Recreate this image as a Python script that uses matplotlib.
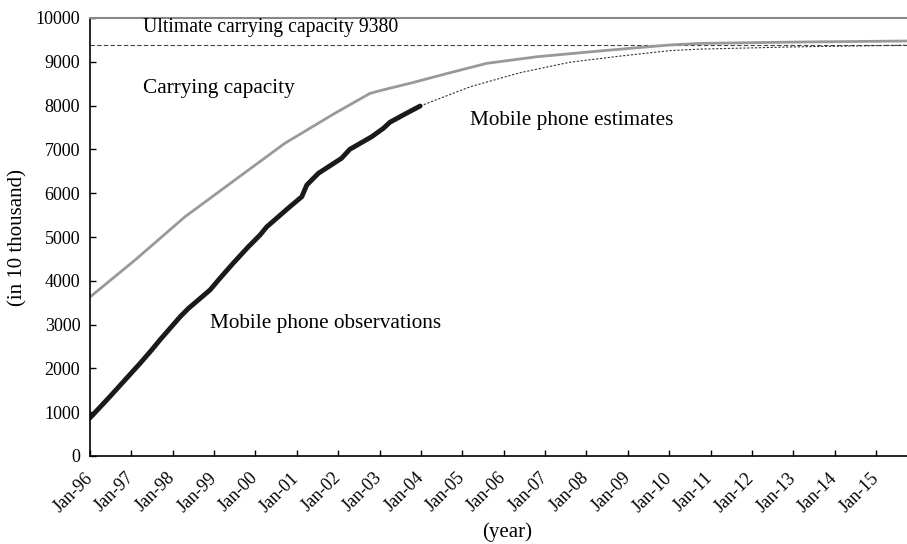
import matplotlib
matplotlib.use("Agg")
import matplotlib.pyplot as plt

plt.rcParams['font.family'] = ['Liberation Serif', 'DejaVu Serif']

# Observed mobile phone subscribers (in 10 thousand), fractional years
obs_year = [1996.0, 1996.48, 1997.21, 1997.49, 1997.69, 1998.18, 1998.38, 1998.90,
            1999.14, 1999.46, 1999.83, 1999.95, 2000.11, 2000.27, 2000.83, 2001.12,
            2001.24, 2001.52, 2002.08, 2002.28, 2002.81, 2003.09, 2003.25, 2003.6,
            2003.98]
obs_val = [870, 1355, 2115, 2420, 2650, 3180, 3370, 3790,
           4057, 4400, 4780, 4893, 5045, 5230, 5690, 5920,
           6187, 6454, 6797, 7002, 7290, 7480, 7620, 7800,
           7990]

# Carrying capacity curve
cap_year = [1996.0, 1997.09, 1998.30, 1999.50, 2000.71, 2001.92, 2002.77, 2003.13,
            2003.74, 2004.66, 2005.59, 2006.80, 2008.41, 2010.02, 2010.75, 2013.0,
            2015.75]
cap_val = [3630, 4475, 5465, 6300, 7140, 7825, 8280, 8370,
           8510, 8740, 8965, 9115, 9255, 9385, 9420, 9450,
           9475]

# Logistic estimates beyond the observed period
est_year = [2003.98, 2005.19, 2006.39, 2007.60, 2008.81, 2010.02, 2010.75, 2013.0,
            2015.75]
est_val = [7990, 8430, 8750, 8990, 9130, 9255, 9290, 9340,
           9380]

ultimate = 9380

years = list(range(1996, 2016))
tick_labels = ["Jan-%02d" % (y % 100) for y in years]
y_ticks = list(range(0, 10001, 1000))

fig = plt.figure(figsize=(9.07, 5.44), dpi=100)
ax = fig.add_axes([90 / 907, 1 - 456 / 544, 1 - 90 / 907, (456 - 18) / 544])

ax.axhline(ultimate, color='#444444', lw=0.8, ls=(0, (4, 2)))
ax.plot(cap_year, cap_val, color='#999999', lw=2.0, solid_capstyle='round')
ax.plot(est_year, est_val, color='#333333', lw=0.8, ls=(0, (2, 1.5)))
ax.plot(obs_year, obs_val, color='#1a1a1a', lw=3.5, solid_capstyle='round',
        solid_joinstyle='round')

ax.set_xlim(1996, 1996 + (907 - 90) / 41.37)
ax.set_ylim(0, 10000)
ax.set_xticks(years)
ax.set_xticklabels(tick_labels, rotation=45, ha='right', va='center',
                   rotation_mode='anchor', fontsize=13)
ax.set_yticks(y_ticks)
ax.set_yticklabels([str(v) for v in y_ticks], fontsize=13)
ax.tick_params(direction='in', length=4, width=1)
ax.tick_params(axis='y', pad=7)
ax.tick_params(axis='x', pad=14)

ax.spines['right'].set_visible(False)
ax.spines['top'].set_color('#888888')
ax.spines['top'].set_linewidth(1.5)
ax.spines['left'].set_linewidth(1.2)
ax.spines['bottom'].set_linewidth(1.2)

ax.set_ylabel('(in 10 thousand)', fontsize=15, va='center')
ax.yaxis.set_label_coords(-72 / 817, 0.5)
ax.set_xlabel('(year)', fontsize=15, va='center')
ax.xaxis.set_label_coords(0.510, -76 / 438)

ax.text(1997.28, 9680, 'Ultimate carrying capacity 9380', fontsize=14.2, va='baseline')
ax.text(1997.28, 8290, 'Carrying capacity', fontsize=15.3, va='baseline')
ax.text(2005.19, 7560, 'Mobile phone estimates', fontsize=15.3, va='baseline')
ax.text(1998.9, 2920, 'Mobile phone observations', fontsize=15.3, va='baseline')

fig.savefig('out.png', dpi=100)
